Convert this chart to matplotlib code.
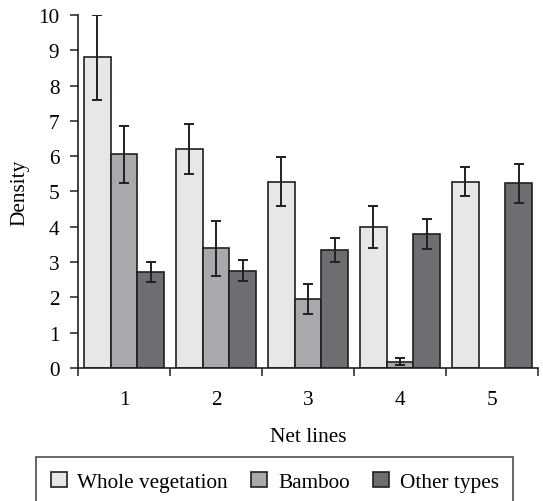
import matplotlib
matplotlib.use("Agg")
import matplotlib.pyplot as plt
import numpy as np

plt.rcParams['font.family'] = ['Liberation Serif', 'DejaVu Serif']
plt.rcParams['font.size'] = 15.3

# density per net line, mean and error
net_lines = ['1', '2', '3', '4', '5']
series = ['Whole vegetation', 'Bamboo', 'Other types']
whole = [8.8, 6.2, 5.28, 4.0, 5.28]
whole_err = [1.2, 0.71, 0.7, 0.6, 0.4]
bamboo = [6.05, 3.39, 1.95, 0.18, np.nan]
bamboo_err = [0.8, 0.78, 0.42, 0.1, np.nan]
other = [2.72, 2.76, 3.35, 3.8, 5.23]
other_err = [0.29, 0.3, 0.34, 0.43, 0.55]

colors = ['#e6e7e8', '#a7a9ac', '#6d6e71']
edge = '#231f20'

fig = plt.figure(figsize=(5.43, 5.02), dpi=100)
ax = fig.add_axes([78 / 543, 1 - 369 / 502, 460 / 543, 353 / 502])

x = np.arange(len(net_lines))
w = 0.29
for i, (vals, errs) in enumerate([(whole, whole_err), (bamboo, bamboo_err), (other, other_err)]):
    ax.bar(x + (i - 1) * w, vals, w, yerr=errs, color=colors[i], edgecolor=edge,
           linewidth=1.2, label=series[i],
           error_kw=dict(ecolor=edge, elinewidth=1.4, capsize=3.5, capthick=1.4))

ax.set_xlim(-0.5, len(net_lines) - 0.5)
ax.set_ylim(0, 10)
ax.set_yticks(range(0, 11))
ax.set_xticks(x)
ax.set_xticklabels(net_lines)
ax.set_xticks(np.arange(-0.5, len(net_lines)), minor=True)
ax.tick_params(axis='x', which='major', length=0, pad=16)
ax.tick_params(axis='x', which='minor', length=6, width=1.1, color=edge)
ax.tick_params(axis='y', length=5.5, width=1.1, color=edge, pad=8)

for s in ['top', 'right']:
    ax.spines[s].set_visible(False)
for s in ['left', 'bottom']:
    ax.spines[s].set_linewidth(1.2)
    ax.spines[s].set_color(edge)

ax.set_xlabel('Net lines', labelpad=13)
ax.set_ylabel('Density', labelpad=6)

leg = fig.legend(loc='upper left', bbox_to_anchor=(36 / 543, 1 - 457.7 / 502), ncol=3,
                 frameon=True, fancybox=False, borderaxespad=0, handlelength=0.75,
                 handleheight=0.75, handletextpad=0.5, columnspacing=1.1, borderpad=0.7)
leg.get_frame().set_edgecolor(edge)
leg.get_frame().set_linewidth(1.2)

fig.savefig('out.png', dpi=100)
